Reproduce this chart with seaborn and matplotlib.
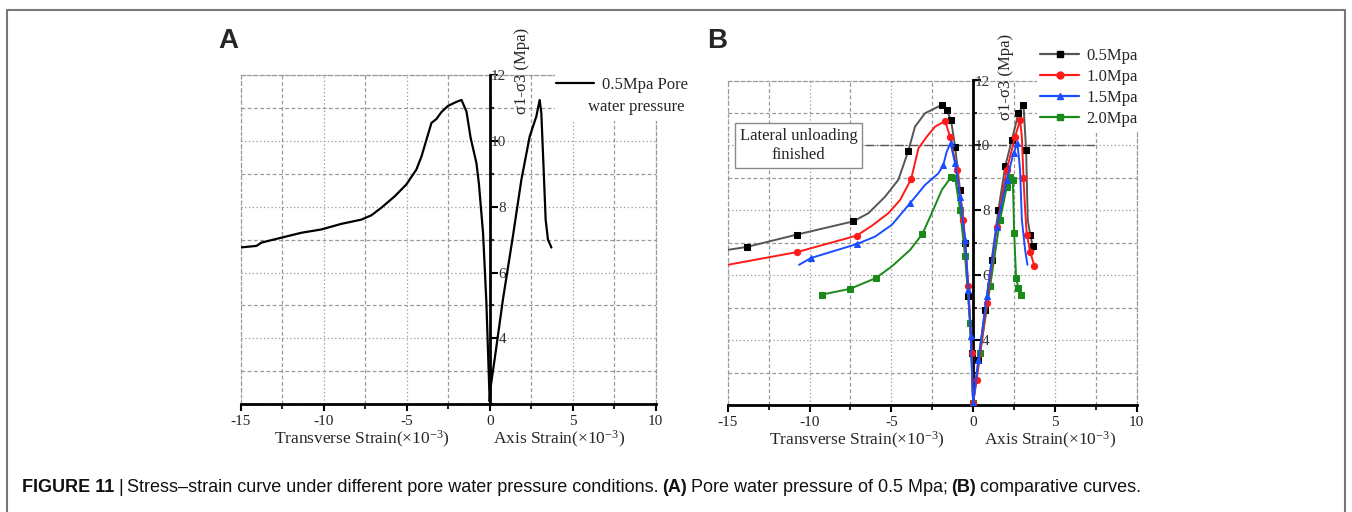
import numpy as np
import pandas as pd
import matplotlib
matplotlib.use("Agg")
import matplotlib.pyplot as plt
import seaborn as sns
from matplotlib.lines import Line2D
from matplotlib.patches import Rectangle
from matplotlib.ticker import MultipleLocator, FixedLocator
import matplotlib.transforms as mtransforms

# ---------------- data ----------------
# Panel A (0.5 MPa pore water pressure)
a_trans_x = [-15.06, -14.05, -13.75, -12.55, -11.34, -10.14, -8.94, -7.73, -7.13, -6.53, -5.72,
             -5.02, -4.42, -4.11, -3.81, -3.51, -3.21, -2.91, -2.51, -2.01, -1.70, -1.40, -1.15,
             -0.80, -0.65, -0.40, -0.20, -0.10, 0.0]
a_trans_y = [6.76, 6.81, 6.91, 7.06, 7.21, 7.31, 7.48, 7.61, 7.74, 7.97, 8.32,
             8.68, 9.13, 9.53, 10.04, 10.55, 10.67, 10.88, 11.07, 11.19, 11.25, 10.90, 10.10,
             9.33, 8.70, 7.20, 5.09, 3.58, 2.07]
a_axial_x = [0.0, 0.04, 0.30, 0.80, 1.40, 1.91, 2.41, 2.81, 3.01, 3.11, 3.25, 3.37, 3.51, 3.72]
a_axial_y = [2.07, 2.46, 3.37, 5.19, 7.11, 8.83, 10.14, 10.75, 11.25, 10.85, 9.13, 7.61, 7.00, 6.76]

# Panel B (comparative curves)
labels_b = ["0.5Mpa", "1.0Mpa", "1.5Mpa", "2.0Mpa"]

b05_trans_x = [-15.0, -13.84, -10.78, -7.32, -6.40, -5.38, -4.57, -3.96, -3.55, -2.94, -1.91,
               -1.61, -1.35, -1.10, -0.80, -0.49, -0.29, -0.08, 0.0]
b05_trans_y = [6.78, 6.87, 7.25, 7.66, 7.91, 8.42, 8.94, 9.83, 10.58, 10.99, 11.25,
               11.09, 10.78, 9.96, 8.63, 7.00, 5.35, 3.61, 2.07]
b05_axial_x = [0.0, 0.33, 0.73, 1.14, 1.55, 1.96, 2.37, 2.77, 3.08, 3.24, 3.34, 3.49, 3.65, 3.73]
b05_axial_y = [2.07, 3.40, 4.94, 6.48, 8.02, 9.35, 10.17, 10.99, 11.25, 9.86, 7.71, 7.25, 6.89, 6.78]

b10_trans_x = [-15.0, -10.78, -7.11, -6.20, -5.18, -4.46, -3.79, -3.34, -2.83, -2.32, -1.71,
               -1.41, -1.00, -0.59, -0.29, -0.08, 0.0]
b10_trans_y = [6.32, 6.71, 7.22, 7.52, 7.91, 8.32, 8.96, 9.91, 10.27, 10.58, 10.75,
               10.27, 9.25, 7.71, 5.66, 3.61, 2.07]
b10_axial_x = [0.0, 0.22, 0.84, 1.45, 2.06, 2.57, 2.87, 2.98, 3.08, 3.18, 3.28, 3.49, 3.75]
b10_axial_y = [2.07, 2.78, 5.14, 7.50, 9.25, 10.27, 10.78, 10.27, 8.99, 8.02, 7.25, 6.73, 6.27]

b15_trans_x = [-10.64, -9.91, -7.11, -5.99, -4.97, -3.85, -2.94, -2.12, -1.82, -1.61, -1.38,
               -1.10, -0.80, -0.49, -0.29, -0.14, 0.0]
b15_trans_y = [6.32, 6.53, 6.96, 7.19, 7.55, 8.22, 8.78, 9.14, 9.40, 9.81, 10.07,
               9.45, 8.42, 7.09, 5.55, 4.12, 2.07]
b15_axial_x = [0.0, 0.33, 0.84, 1.45, 2.06, 2.47, 2.71, 2.87, 2.98, 3.18, 3.32]
b15_axial_y = [2.07, 3.40, 5.35, 7.50, 8.94, 9.76, 10.07, 9.25, 7.71, 6.78, 6.32]

b20_trans_x = [-9.26, -7.52, -5.95, -4.97, -3.85, -3.10, -2.53, -1.91, -1.35, -1.10, -0.80,
               -0.49, -0.18, 0.0]
b20_trans_y = [5.40, 5.58, 5.91, 6.27, 6.78, 7.27, 7.91, 8.63, 9.02, 9.00, 8.02,
               6.58, 4.53, 2.07]
b20_axial_x = [0.0, 0.43, 1.04, 1.65, 2.06, 2.26, 2.43, 2.51, 2.63, 2.77, 2.92]
b20_axial_y = [2.07, 3.61, 5.66, 7.71, 8.73, 9.02, 8.94, 7.30, 5.91, 5.61, 5.40]

x_ticks = [-15, -10, -5, 0, 5, 10]
y_ticks = [4, 6, 8, 10, 12]
unload_level = 10

# ---------------- style ----------------
sns.set_theme(style="white")
plt.rcParams["font.family"] = ["Liberation Serif", "DejaVu Serif"]
plt.rcParams["mathtext.fontset"] = "custom"
plt.rcParams["mathtext.rm"] = "Liberation Serif"
plt.rcParams["mathtext.it"] = "Liberation Serif:italic"
plt.rcParams["axes.unicode_minus"] = False

W, H = 1352, 512
fig = plt.figure(figsize=(W / 100, H / 100), dpi=100)
fig.patch.set_facecolor("white")

def px_rect(x0, y0, x1, y1):
    return [x0 / W, (H - y1) / H, (x1 - x0) / W, (y1 - y0) / H]

axA = fig.add_axes(px_rect(240.7, 75.3, 655.7, 404))
axB = fig.add_axes(px_rect(727.7, 80.5, 1136.7, 405))

GRID_C = "#999999"

def style_axes(ax):
    ax.set_xlim(-15, 10)
    ax.set_ylim(2, 12)
    ax.set_facecolor("white")
    ax.xaxis.set_major_locator(FixedLocator(x_ticks))
    ax.xaxis.set_minor_locator(MultipleLocator(2.5))
    ax.yaxis.set_major_locator(FixedLocator(y_ticks))
    ax.yaxis.set_minor_locator(MultipleLocator(1))
    ax.set_xticklabels([str(v) for v in x_ticks])
    ax.set_yticklabels([str(v) for v in y_ticks])
    ax.grid(True, which="major", color=GRID_C, linestyle=(0, (1, 2)), linewidth=0.9)
    ax.grid(True, which="minor", color=GRID_C, linestyle=(0, (3, 2)), linewidth=0.9)
    ax.set_axisbelow(True)
    for s in ["top", "right"]:
        ax.spines[s].set_visible(True)
        ax.spines[s].set_color(GRID_C)
        ax.spines[s].set_linestyle((0, (3, 2)))
        ax.spines[s].set_linewidth(0.9)
    ax.axvline(-15, color=GRID_C, linestyle=(0, (3, 2)), linewidth=0.9, clip_on=False, zorder=0.5)
    ax.spines["left"].set_position(("data", 0))
    ax.spines["left"].set_color("black")
    ax.spines["left"].set_linewidth(2)
    ax.spines["left"].set_zorder(3)
    ax.spines["bottom"].set_color("black")
    ax.spines["bottom"].set_linewidth(2)
    ax.tick_params(axis="x", which="major", direction="out", length=5, width=1.5,
                   labelsize=11, pad=3, colors="black", bottom=True)
    ax.tick_params(axis="x", which="minor", direction="out", length=3.5, width=1.5, bottom=True)
    ax.tick_params(axis="x", labelcolor="#222222")
    ax.tick_params(axis="y", which="major", direction="in", length=5.5, width=1.5,
                   labelsize=11, pad=-12.0, left=True, colors="black")
    ax.tick_params(axis="y", which="minor", direction="in", length=3, width=1.5, left=True)
    ax.tick_params(axis="y", labelcolor="#333333")
    ax.set_xlabel("")
    ax.set_ylabel("")
    trans = mtransforms.blended_transform_factory(ax.transData, ax.transAxes)
    return trans

transA = style_axes(axA)
transB = style_axes(axB)

# ---------------- panel A ----------------
dfA = pd.DataFrame({"x": a_trans_x + a_axial_x[1:], "y": a_trans_y + a_axial_y[1:]})
sns.lineplot(data=dfA, x="x", y="y", sort=False, estimator=None, ax=axA,
             color="black", linewidth=1.6, zorder=4)
axA.set_xlabel("")
axA.set_ylabel("")

# legend A with white cover
cover = Rectangle((555 / W, (H - 121) / H), 150 / W, 62 / H, transform=fig.transFigure,
                  facecolor="white", edgecolor="none", zorder=5)
fig.add_artist(cover)
legA = fig.legend(handles=[Line2D([], [], color="black", linewidth=1.6)],
                  labels=["0.5Mpa Pore"], loc="center left",
                  bbox_to_anchor=(556 / W, (H - 85) / H), bbox_transform=fig.transFigure,
                  frameon=False, fontsize=12, handlelength=2.3, handletextpad=0.45,
                  borderpad=0.0, borderaxespad=0.0)
legA.set_zorder(6)
fig.text(636 / W, (H - 107) / H, "water pressure", ha="center", va="center",
         fontsize=12, zorder=6)

axA.text(1.92, 12.12, "σ1-σ3 (Mpa)", rotation=90, ha="center", va="center",
         fontsize=12, clip_on=False, zorder=6)
axA.text(-7.7, -0.108, r"Transverse Strain($\times$10$^{-3}$)", transform=transA,
         ha="center", va="center", fontsize=12.5)
axA.text(4.2, -0.108, r"Axis Strain($\times$10$^{-3}$)", transform=transA,
         ha="center", va="center", fontsize=12.5)

# ---------------- panel B ----------------
series_b = [
    (labels_b[0], b05_trans_x, b05_trans_y, b05_axial_x, b05_axial_y, "#555555", "black", "s",
     [1, 2, 3, 7, 10, 11, 12, 13, 14, 15, 16, 17, 18], [0, 1, 2, 3, 4, 5, 6, 7, 8, 9, 11, 12], 2),
    (labels_b[1], b10_trans_x, b10_trans_y, b10_axial_x, b10_axial_y, "#ff1a1a", "#ff1a1a", "o",
     [1, 2, 6, 10, 11, 12, 13, 14, 15, 16], [0, 1, 2, 3, 4, 5, 6, 8, 10, 11, 12], 4),
    (labels_b[2], b15_trans_x, b15_trans_y, b15_axial_x, b15_axial_y, "#1a4dff", "#1a4dff", "^",
     [1, 2, 5, 8, 10, 11, 12, 13, 14, 15, 16], [0, 1, 2, 3, 4, 5, 6], 5),
    (labels_b[3], b20_trans_x, b20_trans_y, b20_axial_x, b20_axial_y, "#1a8a1a", "#1a8a1a", "s",
     [0, 1, 2, 5, 8, 9, 10, 11, 12, 13], [0, 1, 2, 3, 4, 5, 6, 7, 8, 9, 10], 3),
]

handles = []
for lab, tx, ty, axx, ayy, lc, mc, mk, mt, ma, zo in series_b:
    n_t = len(tx)
    xs = tx + axx[1:]
    ys = ty + ayy[1:]
    mark_idx = sorted(set(mt + [n_t - 1 + i for i in ma if i > 0]))
    df = pd.DataFrame({"x": xs, "y": ys})
    sns.lineplot(data=df, x="x", y="y", sort=False, estimator=None, ax=axB,
                 color=lc, linewidth=1.4, marker=mk, markersize=5 if mk != "o" else 4.5,
                 markerfacecolor=mc, markeredgecolor=mc, markevery=mark_idx, zorder=zo)
    handles.append(Line2D([], [], color=lc, linewidth=1.6, marker=mk, markersize=5,
                          markerfacecolor=mc, markeredgecolor=mc))
axB.set_xlabel("")
axB.set_ylabel("")

legB = axB.legend(handles=handles, labels=labels_b, loc="upper left",
                  bbox_to_anchor=(1037 / W, (H - 45) / H), bbox_transform=fig.transFigure,
                  frameon=True, facecolor="white", edgecolor="none", framealpha=1,
                  fancybox=False, fontsize=12, handlelength=2.3, handletextpad=0.45,
                  borderpad=0.2, borderaxespad=0.0, labelspacing=0.3)
legB.set_zorder(7)

axB.hlines(unload_level, -6.6, 7.6, colors="#555555", linestyles="-.", linewidth=1.0, zorder=1.5)
axB.text(-10.67, 10.0, "Lateral unloading\nfinished", ha="center", va="center",
         fontsize=12, multialignment="center", zorder=6,
         bbox=dict(boxstyle="square,pad=0.3", facecolor="white", edgecolor="#8a8a8a", linewidth=1.0))

axB.text(2.0, 12.12, "σ1-σ3 (Mpa)", rotation=90, ha="center", va="center",
         fontsize=12, clip_on=False, zorder=6)
axB.text(-7.1, -0.11, r"Transverse Strain($\times$10$^{-3}$)", transform=transB,
         ha="center", va="center", fontsize=12.5)
axB.text(4.7, -0.11, r"Axis Strain($\times$10$^{-3}$)", transform=transB,
         ha="center", va="center", fontsize=12.5)

# ---------------- panel letters ----------------
fig.text(218 / W, (H - 48) / H, "A", fontsize=20, fontweight="bold",
         family=["Liberation Sans", "DejaVu Sans"], ha="left", va="baseline")
fig.text(707 / W, (H - 48) / H, "B", fontsize=20, fontweight="bold",
         family=["Liberation Sans", "DejaVu Sans"], ha="left", va="baseline")

# ---------------- frame ----------------
fc = "#777777"
fig.add_artist(Line2D([7 / W, 7 / W], [0, (H - 10) / H], transform=fig.transFigure, color=fc, lw=1.5))
fig.add_artist(Line2D([7 / W, 1345 / W], [(H - 10) / H, (H - 10) / H], transform=fig.transFigure, color=fc, lw=1.5))
fig.add_artist(Line2D([1345 / W, 1345 / W], [0, (H - 10) / H], transform=fig.transFigure, color=fc, lw=1.5))

# ---------------- caption ----------------
cap_fam = ["Liberation Sans", "DejaVu Sans"]
cap_pieces = [("FIGURE 11", "bold"), ("|", "normal"),
              ("Stress–strain curve under different pore water pressure conditions.", "normal"),
              ("(A)", "bold"), ("Pore water pressure of 0.5 Mpa;", "normal"),
              ("(B)", "bold"), ("comparative curves.", "normal")]
cap_fs = 13.0
renderer = fig.canvas.get_renderer()
cx = 22.0
cy = (H - 487) / H
for txt, wt in cap_pieces:
    t = fig.text(cx / W, cy, txt, fontsize=cap_fs, fontweight=wt, family=cap_fam,
                 ha="left", va="center", color="#111111")
    bb = t.get_window_extent(renderer)
    cx = bb.x1 + cap_fs * 0.3

fig.savefig("out.png", dpi=100, facecolor="white")
